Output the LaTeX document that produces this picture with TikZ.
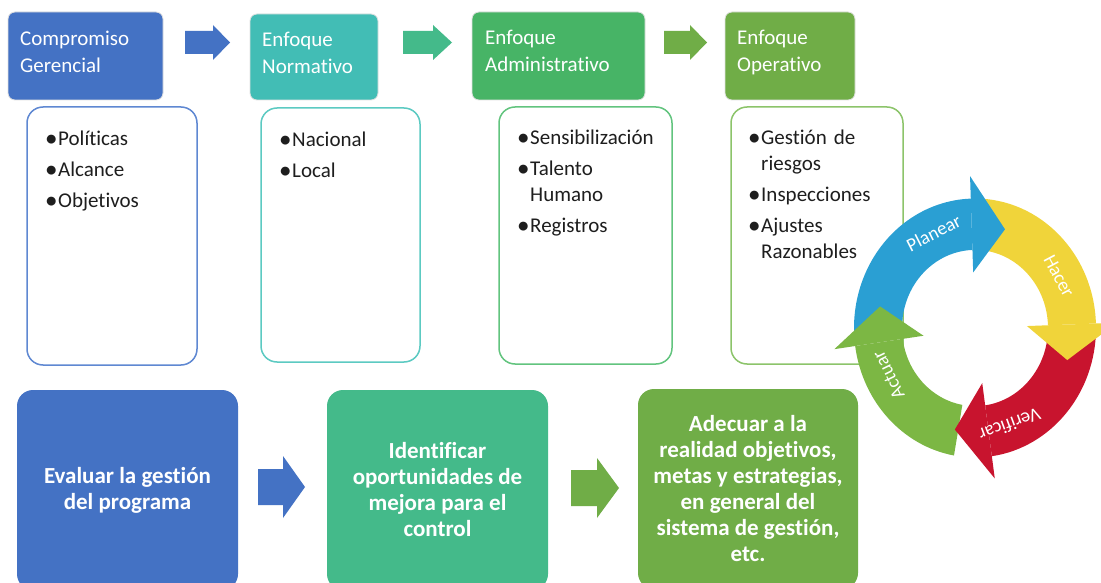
\documentclass[tikz,border=0pt]{standalone}
\usepackage{fontspec}
\setmainfont{Carlito}[Ligatures={NoCommon}]
\definecolor{cblue}{HTML}{4472C4}
\definecolor{cteal}{HTML}{42BDB5}
\definecolor{cgreen}{HTML}{47B466}
\definecolor{clgreen}{HTML}{70AD47}
\definecolor{cmint}{HTML}{44BA8A}
\definecolor{bblue}{HTML}{5F88D2}
\definecolor{bteal}{HTML}{5CCAC2}
\definecolor{bgreen}{HTML}{62C47E}
\definecolor{blgreen}{HTML}{8CC46A}
\definecolor{pblue}{HTML}{2A9FD3}
\definecolor{pyellow}{HTML}{F0D43A}
\definecolor{pred}{HTML}{C8142E}
\definecolor{pgreen}{HTML}{7CB744}
\definecolor{txt}{HTML}{1E1E1E}
\newcommand{\bul}{\makebox[12pt][l]{\raisebox{0pt}{\textbf{•}}}}
\newcommand{\ind}{\hspace*{12pt}}
\newcommand{\cband}[3]{\fill[#1] (#2:121) arc[start angle=#2, end angle=#3, radius=121] -- (#3:73) arc[start angle=#3, end angle=#2, radius=73] -- cycle;}
\newcommand{\chead}[3]{\fill[#1] (#2:52) -- (#2:142) -- (#3:97) -- cycle;}
\begin{document}
\begin{tikzpicture}[x=1pt,y=-1pt,
  hdr/.style={rounded corners=7pt, draw=black!12, line width=0.8pt},
  htxt/.style={anchor=base west, inner sep=0pt, align=left, text width=150pt, text=white,
    font=\fontsize{21}{26.5}\selectfont},
  lst/.style={rounded corners=16pt, line width=1.5pt, fill=white, minimum width=#1},
  ltxt/.style={anchor=base west, inner sep=0pt, align=left, text width=160pt, text=txt,
    font=\fontsize{21}{26}\selectfont},
  bot/.style={rounded corners=16pt, text=white, align=center, inner sep=0pt,
    font=\bfseries\fontsize{23}{26}\selectfont, minimum height=200pt},
  ring/.style={text=white, font=\fontsize{19}{21}\selectfont}
]
\useasboundingbox (0,0) rectangle (1101,583);
\fill[white] (0,0) rectangle (1101,583);
\clip (0,0) rectangle (1101,583);

% header boxes
\node[hdr, fill=cblue, minimum width=155pt, minimum height=88pt] (h1) at (85.5,56) {};
\node[hdr, fill=cteal, minimum width=128pt, minimum height=86pt] (h2) at (314,57) {};
\node[hdr, fill=cgreen, minimum width=173pt, minimum height=88pt] (h3) at (558.5,56) {};
\node[hdr, fill=clgreen, minimum width=130pt, minimum height=88pt] (h4) at (790,56) {};
\node[htxt] (h1t) at (20,46) {Compromiso\\Gerencial};
\node[htxt] (h2t) at (262,47) {Enfoque\\Normativo};
\node[htxt] (h3t) at (485,45) {Enfoque\\Administrativo};
\node[htxt] (h4t) at (737,45) {Enfoque\\Operativo};

% header arrows
\fill[cblue] (185,31)--(213,31)--(213,25)--(230,42.5)--(213,60)--(213,54)--(185,54)--cycle;
\fill[cmint] (403,31)--(433,31)--(433,25)--(452,42.5)--(433,60)--(433,54)--(403,54)--cycle;
\fill[clgreen] (664,31)--(690,31)--(690,25)--(707,42.5)--(690,60)--(690,54)--(664,54)--cycle;

% content boxes
\node[lst=170pt, draw=bblue, minimum height=258pt] (l1) at (112,236) {};
\node[lst=159pt, draw=bteal, minimum height=254pt] (l2) at (340.5,235) {};
\node[lst=173pt, draw=bgreen, minimum height=257pt] (l3) at (585.5,235.5) {};
\node[lst=172pt, draw=blgreen, minimum height=257pt] (l4) at (817,235.5) {};

\node[ltxt] (t1) at (46,146) {\bul Políticas\\[5pt]\bul Alcance\\[5pt]\bul Objetivos};
\node[ltxt] (t2) at (280,147) {\bul Nacional\\[5pt]\bul Local};
\node[ltxt] (t3) at (518,145) {\bul Sensibilización\\[5pt]\bul Talento\\\ind Humano\\[5pt]\bul Registros};
\node[ltxt] (t4) at (749,145) {\bul Gestión de\\\ind riesgos\\[5pt]\bul Inspecciones\\[5pt]\bul Ajustes\\\ind Razonables};

% bottom boxes
\node[bot, fill=cblue, minimum width=221pt] (b1) at (127.5,490) {Evaluar la gestión\\del programa};
\node[bot, fill=cmint, minimum width=221pt] (b2) at (437.5,490) {Identificar\\oportunidades de\\mejora para el\\control};
\node[bot, fill=clgreen, minimum width=220pt] (b3) at (748,489) {Adecuar a la\\realidad objetivos,\\metas y estrategias,\\en general del\\sistema de gestión,\\etc.};

% bottom arrows
\fill[cblue] (258,469)--(283,469)--(283,456)--(305,487)--(283,518)--(283,505)--(258,505)--cycle;
\fill[clgreen] (571,470)--(597,470)--(597,458)--(619,488)--(597,518)--(597,506)--(571,506)--cycle;

% PHVA cycle
\begin{scope}[shift={(975,328)}, yscale=-1.07]
  \cband{pblue}{184}{92}
  \cband{pyellow}{90}{2}
  \cband{pred}{0}{-82}
  \cband{pgreen}{-100}{-172}
  \chead{pblue}{92}{72}
  \chead{pyellow}{2}{-18}
  \chead{pred}{-82}{-102}
  \chead{pgreen}{188}{168}
  \node[ring, rotate=27] (pl) at (115:98) {Planear};
  \node[ring, rotate=-62] (ha) at (30:97) {Hacer};
  \node[ring, rotate=200] (ve) at (291:97) {Verificar};
  \node[ring, rotate=116] (ac) at (207:97) {Actuar};
\end{scope}
\end{tikzpicture}
\end{document}
